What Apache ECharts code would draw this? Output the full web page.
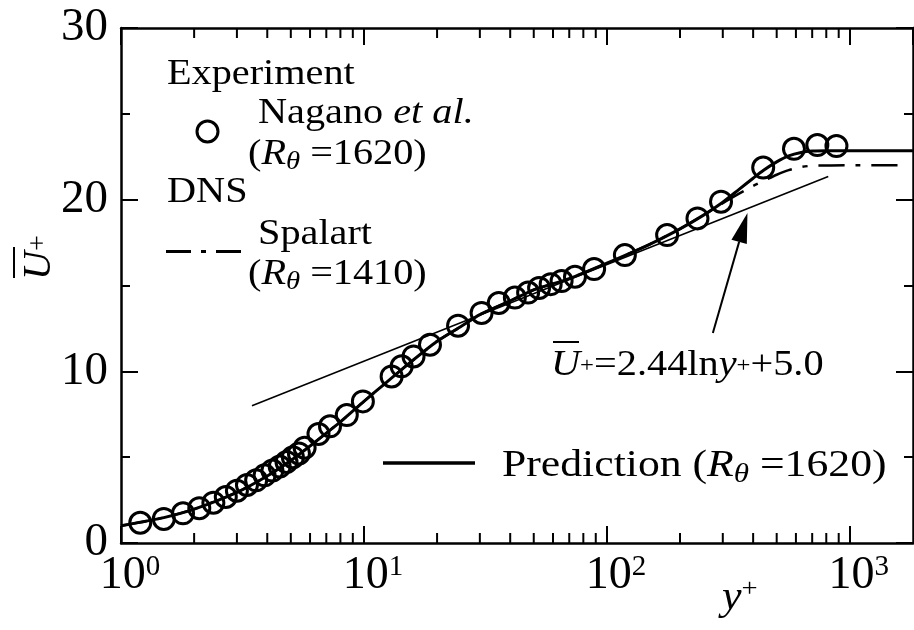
<!DOCTYPE html>
<html>
<head>
<meta charset="utf-8">
<script src="https://cdn.jsdelivr.net/npm/echarts@6/dist/echarts.min.js"></script>
<style>
html, body { margin: 0; padding: 0; background: #fff; }
#chart { width: 914px; height: 630px; }
</style>
</head>
<body>
<div id="chart"></div>
<script>
// experiment, Nagano et al. (R_theta = 1620)
var yPlusExp = [1.2, 1.5, 1.8, 2.1, 2.4, 2.7, 3.0, 3.3, 3.6, 3.9, 4.2, 4.5, 4.8, 5.1, 5.4, 5.7,
    6.5, 7.25, 8.5, 9.9, 13.0, 14.3, 16.0, 18.7, 24.4, 30.5, 35.9, 41.8, 47.4, 52.6, 58.7, 65.1,
    73.9, 88.6, 118.6, 177, 236, 295, 440, 589, 735, 881];
var uExp = [1.18, 1.40, 1.73, 2.03, 2.35, 2.68, 3.05, 3.38, 3.65, 3.94, 4.22, 4.45, 4.72, 5.0, 5.22, 5.55,
    6.35, 6.8, 7.45, 8.25, 9.7, 10.29, 10.87, 11.55, 12.66, 13.4, 13.98, 14.3, 14.59, 14.86, 15.08, 15.26,
    15.51, 15.96, 16.77, 17.94, 18.91, 19.88, 21.87, 22.96, 23.18, 23.12];

// prediction (R_theta = 1620)
var yPlusPred = [1, 1.5, 2, 3, 4, 5, 6, 7, 8, 10, 12, 15, 20, 25, 30, 40, 50, 70, 100, 150, 200, 250, 300, 350, 400, 440, 500, 560, 630, 700, 800, 1000, 1820];
var uPred = [1.0, 1.48, 1.97, 2.95, 3.9, 4.8, 5.65, 6.4, 7.05, 8.25, 9.2, 10.35, 11.75, 12.6, 13.3, 14.1, 14.75, 15.4, 16.3, 17.4, 18.3, 19.1, 19.85, 20.6, 21.25, 21.7, 22.2, 22.55, 22.75, 22.83, 22.85, 22.85, 22.85];

// DNS, Spalart (R_theta = 1410)
var yPlusDns = [1, 1.5, 2, 3, 4, 5, 6, 7, 8, 10, 12, 15, 20, 25, 30, 40, 50, 70, 100, 150, 200, 250, 300, 350, 400, 450, 500, 560, 630, 700, 1000, 1680];
var uDns = [1.0, 1.48, 1.97, 2.95, 3.9, 4.8, 5.65, 6.4, 7.05, 8.25, 9.2, 10.35, 11.75, 12.6, 13.3, 14.1, 14.75, 15.4, 16.3, 17.4, 18.3, 19.1, 19.8, 20.35, 20.8, 21.15, 21.45, 21.72, 21.9, 21.98, 22.0, 22.0];

// log law  U+ = 2.44 ln y+ + 5.0  (end points)
var yPlusLog = [3.46, 815];
var uLog = [8.0, 21.35];

// arrow pointing at the log law
var arrowTail = [273, 12.23];
var arrowTip = [379, 19.22];

var xMinorTicks = [2, 3, 4, 5, 6, 7, 8, 9, 20, 30, 40, 50, 60, 70, 80, 90, 200, 300, 400, 500, 600, 700, 800, 900];

var serif = '"Liberation Serif", "Times New Roman", serif';

function zip(a, b) {
    return a.map(function (v, i) { return [v, b[i]]; });
}

var myChart = echarts.init(document.getElementById('chart'), null, {renderer: 'canvas'});

var axisLineStyle = {color: '#000', width: 2.5};
var tickStyle = {color: '#000', width: 2};

option = {
    backgroundColor: '#fff',
    animation: false,
    grid: {left: 121, right: 1, top: 28, bottom: 87},
    xAxis: [{
        type: 'log',
        logBase: 10,
        min: 1,
        max: 1820,
        position: 'bottom',
        axisLine: {show: true, onZero: false, lineStyle: axisLineStyle},
        axisTick: {show: true, inside: true, length: 17, lineStyle: tickStyle},
        splitLine: {show: false},
        axisLabel: {
            margin: 10,
            showMaxLabel: false,
            padding: [0, 0, 0, 18],
            formatter: function (v) {
                var e = Math.round(Math.log10(v));
                if (Math.abs(Math.pow(10, e) - v) > 1e-6 * v) return '';
                return '{b|10}{s|' + e + '}';
            },
            rich: {
                b: {fontFamily: serif, fontSize: 46, lineHeight: 46, color: '#000'},
                s: {fontFamily: serif, fontSize: 29, lineHeight: 35, color: '#000', verticalAlign: 'top'}
            }
        }
    }, {
        type: 'log',
        logBase: 10,
        min: 1,
        max: 1820,
        position: 'top',
        axisLine: {show: true, onZero: false, lineStyle: axisLineStyle},
        axisTick: {show: true, inside: true, length: 17, lineStyle: tickStyle},
        splitLine: {show: false},
        axisLabel: {show: false}
    }],
    yAxis: [{
        type: 'value',
        min: 0,
        max: 30,
        interval: 10,
        position: 'left',
        axisLine: {show: true, onZero: false, lineStyle: axisLineStyle},
        axisTick: {show: true, inside: true, length: 17, lineStyle: tickStyle},
        minorTick: {show: true, splitNumber: 2, length: 9, lineStyle: tickStyle},
        splitLine: {show: false},
        axisLabel: {margin: 13, fontFamily: serif, fontSize: 47, color: '#000'}
    }, {
        type: 'value',
        min: 0,
        max: 30,
        interval: 10,
        position: 'right',
        axisLine: {show: true, onZero: false, lineStyle: axisLineStyle},
        axisTick: {show: true, inside: true, length: 17, lineStyle: tickStyle},
        minorTick: {show: true, splitNumber: 2, length: 9, lineStyle: tickStyle},
        splitLine: {show: false},
        axisLabel: {show: false}
    }],
    series: [{ // DNS Spalart
        name: 'DNS',
        type: 'line',
        data: zip(yPlusDns, uDns),
        showSymbol: false,
        smooth: 0.2,
        lineStyle: {color: '#000', width: 2.5, type: [26, 11, 5, 11]},
        z: 2
    }, { // prediction
        name: 'Prediction',
        type: 'line',
        data: zip(yPlusPred, uPred),
        showSymbol: false,
        smooth: 0.2,
        lineStyle: {color: '#000', width: 3},
        z: 3
    }, { // log law
        name: 'log law',
        type: 'line',
        data: zip(yPlusLog, uLog),
        showSymbol: false,
        lineStyle: {color: '#000', width: 1.6},
        z: 2
    }, { // experiment circles
        name: 'Experiment',
        type: 'scatter',
        data: zip(yPlusExp, uExp),
        symbol: 'circle',
        symbolSize: 21,
        itemStyle: {color: 'rgba(0,0,0,0)', borderColor: '#000', borderWidth: 3, opacity: 1},
        z: 4
    }, { // minor ticks of the log axis, top and bottom
        type: 'custom',
        silent: true,
        clip: false,
        data: xMinorTicks.map(function (v) { return [v, 0]; }),
        renderItem: function (params, api) {
            var p = api.coord([api.value(0), 0]);
            var cs = params.coordSys;
            var top = cs.y, bottom = cs.y + cs.height;
            return {
                type: 'group',
                children: [
                    {type: 'line', shape: {x1: p[0], y1: bottom, x2: p[0], y2: bottom - 10}, style: {stroke: '#000', lineWidth: 2}},
                    {type: 'line', shape: {x1: p[0], y1: top, x2: p[0], y2: top + 10}, style: {stroke: '#000', lineWidth: 2}}
                ]
            };
        },
        z: 5
    }]
};

myChart.setOption(option);

// annotations
var legRich = {
    n: {fontFamily: serif, fontSize: 35, lineHeight: 40, fill: '#000'},
    i: {fontFamily: serif, fontSize: 35, fontStyle: 'italic', lineHeight: 40, fill: '#000'},
    sub: {fontFamily: serif, fontSize: 25, fontStyle: 'italic', lineHeight: 18, fill: '#000', verticalAlign: 'bottom'}
};
var predRich = {
    n: {fontFamily: serif, fontSize: 38, lineHeight: 44, fill: '#000'},
    i: {fontFamily: serif, fontSize: 38, fontStyle: 'italic', lineHeight: 44, fill: '#000'},
    sub: {fontFamily: serif, fontSize: 27, fontStyle: 'italic', lineHeight: 20, fill: '#000', verticalAlign: 'bottom'}
};
var eqRich = {
    n: {fontFamily: serif, fontSize: 36, lineHeight: 40, fill: '#000'},
    i: {fontFamily: serif, fontSize: 36, fontStyle: 'italic', lineHeight: 40, fill: '#000'},
    p: {fontFamily: serif, fontSize: 22, lineHeight: 40, fill: '#000'}
};

function txt(x, y, text, rich, sx) {
    return {
        type: 'text', x: x, y: y, scaleX: sx || 1, z: 10,
        style: {text: text, rich: rich, align: 'left', verticalAlign: 'middle', fill: '#000'}
    };
}

var a = myChart.convertToPixel({xAxisIndex: 0, yAxisIndex: 0}, arrowTail);
var b = myChart.convertToPixel({xAxisIndex: 0, yAxisIndex: 0}, arrowTip);
var dx = b[0] - a[0], dy = b[1] - a[1], len = Math.sqrt(dx * dx + dy * dy);
var ux = dx / len, uy = dy / len;
var headLen = 30, headW = 8;
var hb = [b[0] - ux * headLen, b[1] - uy * headLen];

myChart.setOption({
    graphic: [
        txt(167, 75, '{n|Experiment}', legRich, 1.15),
        {type: 'circle', shape: {cx: 207.5, cy: 131.5, r: 10.5}, style: {fill: 'none', stroke: '#000', lineWidth: 3}, z: 10},
        txt(258, 114, '{n|Nagano }{i|et al.}', legRich, 1.15),
        txt(248, 155, '{n|(}{i|R}{sub|θ}{n| =1620)}', legRich, 1.15),
        txt(167, 193, '{n|DNS}', legRich, 1.15),
        {type: 'line', shape: {x1: 166, y1: 251.5, x2: 250, y2: 251.5},
            style: {stroke: '#000', lineWidth: 3, lineDash: [25, 10, 5, 10]}, z: 10},
        txt(258, 235, '{n|Spalart}', legRich, 1.15),
        txt(248, 275, '{n|(}{i|R}{sub|θ}{n| =1410)}', legRich, 1.15),
        {type: 'line', shape: {x1: 383, y1: 463, x2: 475, y2: 463}, style: {stroke: '#000', lineWidth: 3.5}, z: 10},
        txt(502, 466, '{n|Prediction (}{i|R}{sub|θ}{n| =1620)}', predRich, 1.15),
        txt(551, 366, '{i|U}{p|+}{n|=2.44ln}{i|y}{p|+}{n|+5.0}', eqRich, 1.12),
        {type: 'line', shape: {x1: 553, y1: 342, x2: 579, y2: 342}, style: {stroke: '#000', lineWidth: 2}, z: 10},
        // axis names
        txt(722, 598, '{i|y}{s|+}', {
            i: {fontFamily: serif, fontSize: 40, fontStyle: 'italic', lineHeight: 44, fill: '#000'},
            s: {fontFamily: serif, fontSize: 26, lineHeight: 30, fill: '#000', verticalAlign: 'top'}
        }, 1.1),
        {
            type: 'group', x: 39, y: 280, rotation: Math.PI / 2, z: 10,
            children: [
                {type: 'text', x: 0, y: 0, style: {text: '{i|U}{s|+}', align: 'left', verticalAlign: 'middle', rich: {
                    i: {fontFamily: serif, fontSize: 40, fontStyle: 'italic', lineHeight: 40, fill: '#000'},
                    s: {fontFamily: serif, fontSize: 28, lineHeight: 40, fill: '#000'}
                }}},
                {type: 'line', shape: {x1: 2, y1: -25, x2: 33, y2: -25}, style: {stroke: '#000', lineWidth: 2}}
            ]
        },
        // arrow
        {type: 'line', shape: {x1: a[0], y1: a[1], x2: hb[0], y2: hb[1]}, style: {stroke: '#000', lineWidth: 2}, z: 10},
        {type: 'polygon', shape: {points: [
            [b[0], b[1]],
            [hb[0] - uy * headW, hb[1] + ux * headW],
            [hb[0] + uy * headW, hb[1] - ux * headW]
        ]}, style: {fill: '#000'}, z: 10}
    ]
});
</script>
</body>
</html>
